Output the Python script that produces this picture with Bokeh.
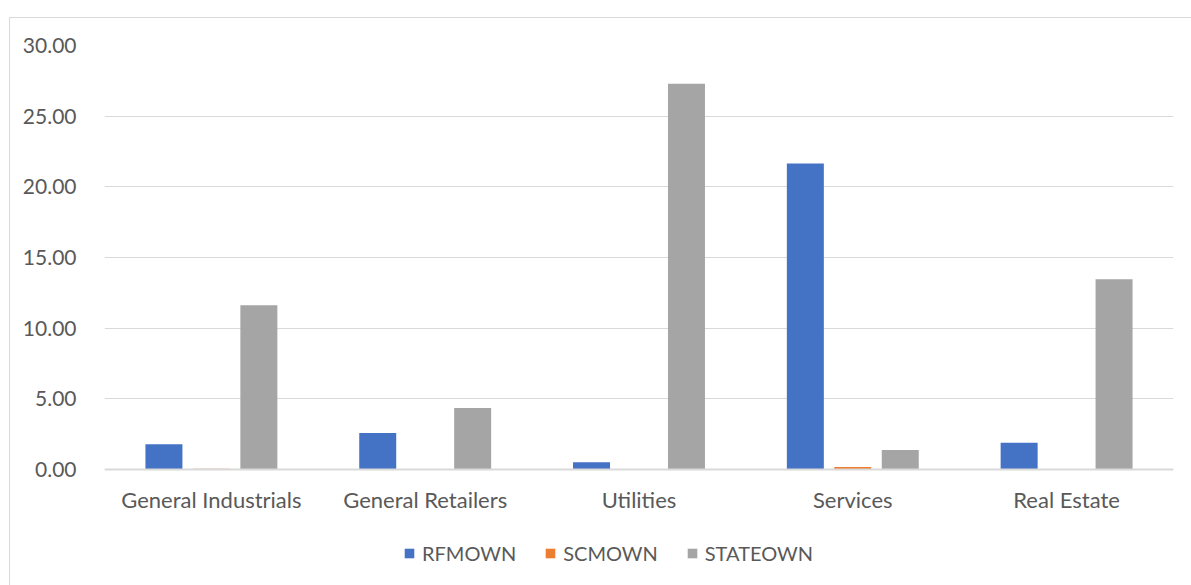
from bokeh.plotting import figure
from bokeh.models import FactorRange, Range1d, Legend, LegendItem, NumeralTickFormatter, FixedTicker
from bokeh.transform import dodge
from bokeh.embed import file_html
from bokeh.resources import INLINE

categories = ["General Industrials", "General Retailers", "Utilities", "Services", "Real Estate"]
rfmown = [1.78, 2.58, 0.52, 21.65, 1.90]
scmown = [0.05, 0.0, 0.0, 0.18, 0.0]
stateown = [11.63, 4.35, 27.30, 1.38, 13.46]
series_names = ["RFMOWN", "SCMOWN", "STATEOWN"]
colors = ["#4472C4", "#ED7D31", "#A5A5A5"]
y_ticks = [0, 5, 10, 15, 20, 25, 30]

FONT = "Lato"
TEXT = "#595959"
GRID = "#D9D9D9"

# the frame reaches below zero so the category labels and legend sit inside it
p = figure(
    x_range=FactorRange(*categories, range_padding=0),
    y_range=Range1d(-9.62, 30),
    frame_width=1069, frame_height=560,
    output_backend="svg", toolbar_location=None,
    min_border_left=94, min_border_right=18,
    min_border_top=27, min_border_bottom=0,
    styles={"margin-left": "9px", "margin-top": "17px",
            "border": "1px solid #D9D9D9"},
)
p.outline_line_color = None
p.background_fill_color = "white"
p.border_fill_color = "white"

data = dict(cat=categories, RFMOWN=rfmown, SCMOWN=scmown, STATEOWN=stateown)
offsets = [-0.222, 0.0, 0.222]
renderers = []
for name, col, off in zip(series_names, colors, offsets):
    r = p.vbar(x=dodge("cat", off, range=p.x_range), top=name, bottom=0, width=0.173,
               source=data, fill_color=col, line_color=None)
    renderers.append(r)

p.ygrid.ticker = FixedTicker(ticks=y_ticks)
p.ygrid.grid_line_color = GRID
p.ygrid.grid_line_width = 1
p.xgrid.grid_line_color = None

p.yaxis.ticker = FixedTicker(ticks=y_ticks)
p.yaxis.formatter = NumeralTickFormatter(format="0.00")
p.yaxis.axis_line_color = None
p.yaxis.major_tick_line_color = None
p.yaxis.minor_tick_line_color = None
p.yaxis.major_label_text_font = FONT
p.yaxis.major_label_text_font_size = "21px"
p.yaxis.major_label_text_color = TEXT
p.yaxis.major_label_standoff = 22

# category axis drawn along the zero line
p.xaxis.fixed_location = 0
p.xaxis.axis_line_color = GRID
p.xaxis.axis_line_width = 2
p.xaxis.major_tick_line_color = None
p.xaxis.minor_tick_line_color = None
p.xaxis.major_label_text_font = FONT
p.xaxis.major_label_text_font_size = "22px"
p.xaxis.major_label_text_color = TEXT
p.xaxis.major_label_standoff = 10

legend = Legend(
    items=[LegendItem(label=n, renderers=[r]) for n, r in zip(series_names, renderers)],
    orientation="horizontal", location=(299, 40),
    label_text_font=FONT, label_text_font_size="20px", label_text_color=TEXT,
    glyph_width=12, glyph_height=12, spacing=28, label_standoff=7,
    border_line_color=None, background_fill_alpha=0, margin=0, padding=0,
)
p.add_layout(legend, "center")

open("out.html", "w").write(file_html(p, INLINE))
